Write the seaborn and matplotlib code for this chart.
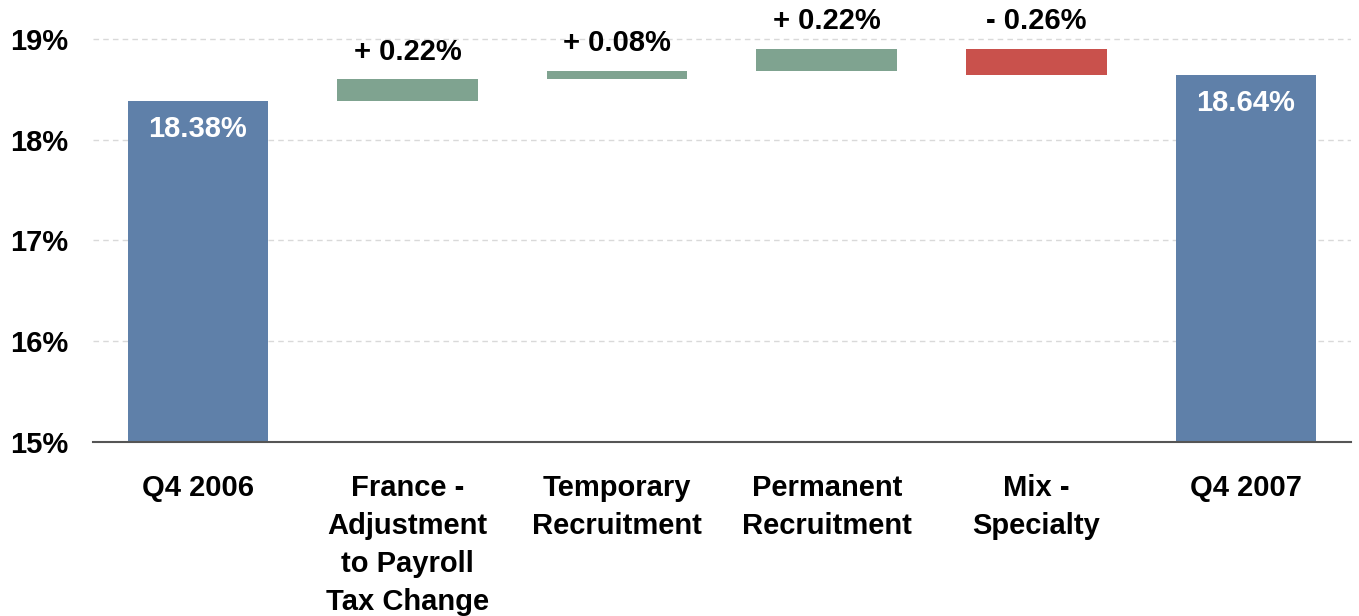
import matplotlib
matplotlib.use("Agg")
import matplotlib.pyplot as plt
import seaborn as sns

# data
categories = ["Q4 2006", "France -\nAdjustment\nto Payroll\nTax Change",
              "Temporary\nRecruitment", "Permanent\nRecruitment",
              "Mix -\nSpecialty", "Q4 2007"]
changes = [18.38, 0.22, 0.08, 0.22, -0.26, 18.64]
kinds = ["total", "delta", "delta", "delta", "delta", "total"]
labels = ["18.38%", "+ 0.22%", "+ 0.08%", "+ 0.22%", "- 0.26%", "18.64%"]
yticks = [15, 16, 17, 18, 19]

BLUE = "#5f80a9"
GREEN = "#7fa390"
RED = "#c9514c"

# waterfall bottoms / heights
bottoms, heights, tops = [], [], []
level = 0
for v, k in zip(changes, kinds):
    if k == "total":
        bottoms.append(0)
        heights.append(v)
        level = v
        tops.append(v)
    else:
        new = level + v
        bottoms.append(min(level, new))
        heights.append(abs(v))
        tops.append(max(level, new))
        level = new

sns.set_style("white")
plt.rcParams["font.family"] = ["Liberation Sans", "DejaVu Sans"]
plt.rcParams["font.weight"] = "bold"
plt.rcParams["text.color"] = "black"
plt.rcParams["xtick.color"] = "black"
plt.rcParams["ytick.color"] = "black"

fig = plt.figure(figsize=(13.59, 6.16), dpi=100)
ax = fig.add_axes([0.0684, 0.2825, 0.9256, 0.7175])

sns.barplot(x=categories, y=heights, bottom=bottoms, color=BLUE,
            width=0.67, saturation=1, ax=ax, zorder=3)

colors = []
for v, k in zip(changes, kinds):
    if k == "total":
        colors.append(BLUE)
    else:
        colors.append(GREEN if v > 0 else RED)
for p, c in zip(ax.patches, colors):
    p.set_facecolor(c)
    p.set_edgecolor("none")

ax.set_ylim(15, 19.387)
ax.set_xlim(-0.5, 5.5)
ax.set_yticks(yticks)
ax.set_yticklabels([f"{t}%" for t in yticks])
ax.yaxis.grid(True, linestyle=(0, (4, 3)), color="#d9d9d9", linewidth=1.0)
ax.set_axisbelow(True)

for s in ["top", "right", "left"]:
    ax.spines[s].set_visible(False)
ax.spines["bottom"].set_color("#555555")
ax.spines["bottom"].set_linewidth(1.5)
ax.spines["bottom"].set_zorder(4)

ax.tick_params(axis="y", length=0, pad=18, labelsize=21, labelcolor="black")
ax.tick_params(axis="x", length=0, pad=23, labelsize=21, labelcolor="black")
for t in ax.get_xticklabels():
    t.set_fontweight("bold")
    t.set_linespacing(1.45)
for t in ax.get_yticklabels():
    t.set_fontweight("bold")

for i, (k, top, lab) in enumerate(zip(kinds, tops, labels)):
    if k == "total":
        ax.annotate(lab, (i, top), xytext=(0, -20), textcoords="offset points",
                    ha="center", va="center", color="white", fontsize=21,
                    fontweight="bold", zorder=5)
    else:
        ax.annotate(lab, (i, top), xytext=(0, 20), textcoords="offset points",
                    ha="center", va="center", color="black", fontsize=21,
                    fontweight="bold", zorder=5)

ax.set_xlabel("")
ax.set_ylabel("")

fig.savefig("out.png", dpi=100)
